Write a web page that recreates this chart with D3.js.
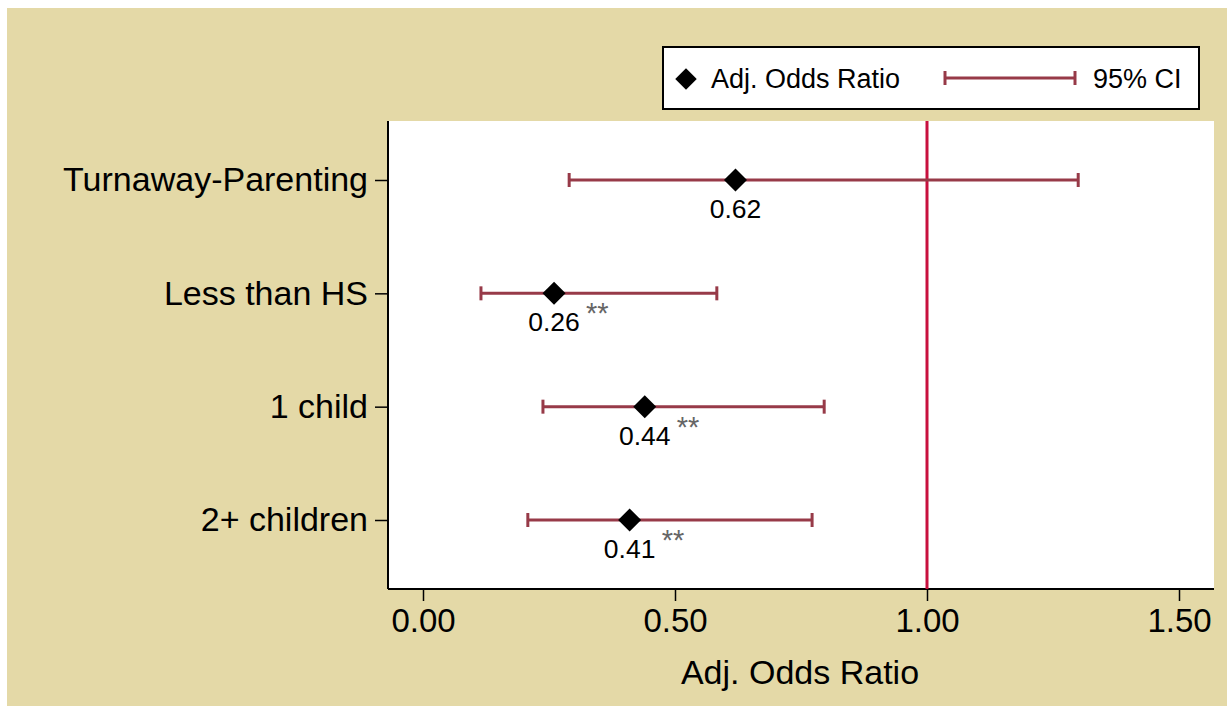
<!DOCTYPE html>
<html>
<head>
<meta charset="utf-8">
<script src="https://cdn.jsdelivr.net/npm/d3@7"></script>
<style>
  html, body { margin: 0; padding: 0; background: #ffffff; }
  svg { display: block; font-family: "Liberation Sans", Arial, sans-serif; }
</style>
</head>
<body>
<div id="chart-area"></div>
<script>
/* DATA */
const categories = ['Turnaway-Parenting', 'Less than HS', '1 child', '2+ children'];
const oddsRatios = [0.62, 0.26, 0.44, 0.41];
const ciLower = [0.29, 0.115, 0.238, 0.208];
const ciUpper = [1.30, 0.583, 0.796, 0.772];
const stars = ['', '**', '**', '**'];
const xTicks = [0, 0.5, 1.0, 1.5];

const rows = categories.map((c, i) => ({
  cat: c, or: oddsRatios[i], lo: ciLower[i], hi: ciUpper[i], sig: stars[i]
}));

/* CONSTANTS */
const W = 1227, H = 706;
const plot = { left: 388, top: 121, right: 1214, bottom: 589 };
const ciColor = '#973a48';
const refColor = '#c8103e';
const bg = '#e4d9a7';

const svg = d3.select('#chart-area')
  .append('svg')
  .attr('width', W)
  .attr('height', H);

// outer background
svg.append('rect').attr('width', W).attr('height', H).attr('fill', '#ffffff');
svg.append('rect').attr('x', 7).attr('y', 8).attr('width', W - 7).attr('height', H - 8).attr('fill', bg);

// plot region
svg.append('rect')
  .attr('x', plot.left).attr('y', plot.top)
  .attr('width', plot.right - plot.left).attr('height', plot.bottom - plot.top)
  .attr('fill', '#ffffff');

// scales
const x = d3.scaleLinear().domain([0, 1.5]).range([423, 1179]);
const y = d3.scalePoint().domain(categories).range([180, 520]);

// axes
const xAxis = d3.axisBottom(x).tickValues(xTicks).tickFormat(d3.format('.2f')).tickSize(12).tickPadding(8);
const gx = svg.append('g').attr('transform', `translate(0, ${plot.bottom})`).call(xAxis);
gx.select('.domain').attr('d', `M${plot.left},0H${plot.right}`).attr('stroke', '#000').attr('stroke-width', 2);
gx.selectAll('.tick line').attr('stroke', '#000').attr('stroke-width', 1.5);
gx.selectAll('.tick text').attr('font-size', 33).attr('fill', '#000')
  .attr('font-family', '"Liberation Sans", Arial, sans-serif');

const yAxis = d3.axisLeft(y).tickSize(13).tickPadding(7);
const gy = svg.append('g').attr('transform', `translate(${plot.left}, 0)`).call(yAxis);
gy.select('.domain').attr('d', `M0,${plot.top}V${plot.bottom}`).attr('stroke', '#000').attr('stroke-width', 2);
gy.selectAll('.tick line').attr('stroke', '#000').attr('stroke-width', 1.5);
gy.selectAll('.tick text').attr('font-size', 34).attr('fill', '#000')
  .attr('font-family', '"Liberation Sans", Arial, sans-serif');

// x axis title
svg.append('text')
  .attr('x', 800)
  .attr('y', 684)
  .attr('text-anchor', 'middle')
  .attr('font-size', 34)
  .text('Adj. Odds Ratio');

// reference line at 1
svg.append('line')
  .attr('x1', x(1)).attr('x2', x(1))
  .attr('y1', plot.top).attr('y2', plot.bottom)
  .attr('stroke', refColor).attr('stroke-width', 3);

// CI bars
const capH = 7;
const ci = svg.append('g').attr('stroke', ciColor).attr('stroke-width', 3);
ci.selectAll('line.ci').data(rows).enter().append('line')
  .attr('class', 'ci')
  .attr('x1', d => x(d.lo)).attr('x2', d => x(d.hi))
  .attr('y1', d => y(d.cat)).attr('y2', d => y(d.cat));
ci.selectAll('line.lo').data(rows).enter().append('line')
  .attr('class', 'lo')
  .attr('x1', d => x(d.lo)).attr('x2', d => x(d.lo))
  .attr('y1', d => y(d.cat) - capH).attr('y2', d => y(d.cat) + capH);
ci.selectAll('line.hi').data(rows).enter().append('line')
  .attr('class', 'hi')
  .attr('x1', d => x(d.hi)).attr('x2', d => x(d.hi))
  .attr('y1', d => y(d.cat) - capH).attr('y2', d => y(d.cat) + capH);

// diamonds
const diamond = d3.symbol().type(d3.symbolSquare).size(265);
svg.selectAll('path.pt').data(rows).enter().append('path')
  .attr('class', 'pt')
  .attr('d', diamond)
  .attr('fill', '#000')
  .attr('transform', d => `translate(${x(d.or)}, ${y(d.cat)}) rotate(45)`);

// value labels
svg.selectAll('text.val').data(rows).enter().append('text')
  .attr('class', 'val')
  .attr('x', d => x(d.or))
  .attr('y', d => y(d.cat) + 38)
  .attr('text-anchor', 'middle')
  .attr('font-size', 26.5)
  .text(d => d.or.toFixed(2));

svg.selectAll('text.sig').data(rows.filter(d => d.sig)).enter().append('text')
  .attr('class', 'sig')
  .attr('x', d => x(d.or) + 32)
  .attr('y', d => y(d.cat) + 30)
  .attr('font-size', 29)
  .attr('fill', '#666')
  .text(d => d.sig);

// legend
const lg = svg.append('g');
lg.append('rect')
  .attr('x', 663).attr('y', 47).attr('width', 536).attr('height', 62)
  .attr('fill', '#fff').attr('stroke', '#000').attr('stroke-width', 2);
lg.append('path')
  .attr('d', d3.symbol().type(d3.symbolSquare).size(230))
  .attr('transform', 'translate(686, 79) rotate(45)')
  .attr('fill', '#000');
lg.append('text').attr('x', 711).attr('y', 88).attr('font-size', 27).text('Adj. Odds Ratio');
const lci = lg.append('g').attr('stroke', ciColor).attr('stroke-width', 3);
lci.append('line').attr('x1', 945).attr('x2', 1075).attr('y1', 78).attr('y2', 78);
lci.append('line').attr('x1', 945).attr('x2', 945).attr('y1', 71).attr('y2', 85);
lci.append('line').attr('x1', 1075).attr('x2', 1075).attr('y1', 71).attr('y2', 85);
lg.append('text').attr('x', 1093).attr('y', 88).attr('font-size', 27).text('95% CI');
</script>
</body>
</html>
